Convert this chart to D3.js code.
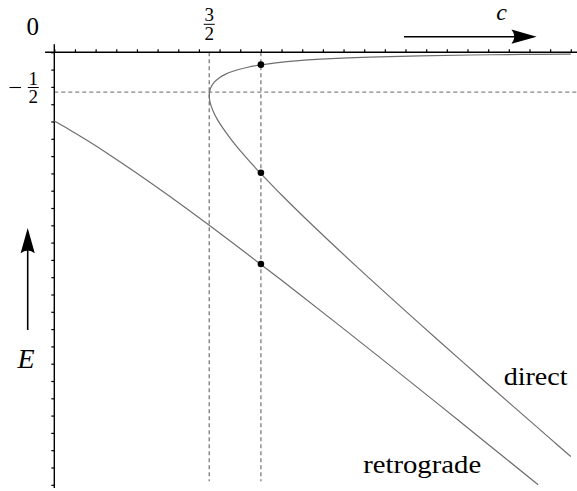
<!DOCTYPE html>
<html>
<head>
<meta charset="utf-8">
<script src="https://cdn.jsdelivr.net/npm/d3@7"></script>
<style>
  html, body { margin: 0; padding: 0; background: #fff; }
</style>
</head>
<body>
<svg id="chart" width="577" height="491"></svg>
<script>
// =====================================================
// Data
// =====================================================
/** direct branch, upper end -> turning point -> lower end */
const directC = [5.000, 4.525, 4.031, 3.541, 3.056, 2.580, 2.336, 2.125, 2.000, 1.873, 1.722, 1.655,
                 1.596, 1.547, 1.513, 1.504, 1.500, 1.504, 1.517, 1.542, 1.581, 1.639, 1.720, 1.833,
                 1.989, 2.000, 2.203, 2.500, 2.919, 3.525, 3.931, 4.432, 4.790, 5.000];
const directE = [-0.020, -0.025, -0.031, -0.041, -0.056, -0.080, -0.100, -0.125, -0.145, -0.173, -0.222, -0.255,
                 -0.296, -0.347, -0.413, -0.454, -0.500, -0.554, -0.617, -0.692, -0.781, -0.889, -1.020, -1.183,
                 -1.389, -1.402, -1.653, -2.000, -2.469, -3.125, -3.556, -4.082, -4.455, -4.673];
/** retrograde branch */
const retroC = [0.000, 0.139, 0.320, 0.533, 0.789, 1.103, 1.500, 2.000, 2.343, 2.725, 3.181, 3.732, 4.120, 4.684];
const retroE = [-0.794, -0.889, -1.020, -1.183, -1.389, -1.653, -2.000, -2.452, -2.768, -3.125, -3.556, -4.082, -4.455, -5.000];

/** marked orbits at c = 2 */
const markC = [2, 2, 2];
const markE = [-0.143, -1.392, -2.447];

/** dashed guides */
const guideC = [1.5, 2];
const guideE = [-0.46];

/** tick labels */
const xFracLabels = [{ value: 1.5, num: "3", den: "2" }];
const yFracLabels = [{ value: -0.4, num: "1", den: "2", sign: true }];
const originLabel = "0";
const branchLabels = [
  { text: "direct",     c: 4.35, E: -3.85, len: 64 },
  { text: "retrograde", c: 2.99, E: -4.86, len: 118 }
];

// =====================================================
// Plot
// =====================================================
const svg = d3.select("#chart");
const serif = "Liberation Serif";

const x = d3.scaleLinear().domain([0, 5]).range([54.3, 570.8]);
const y = d3.scaleLinear().domain([0, -5]).range([52.3, 484.8]);

const curveGray = "#6e6e6e";
const dashGray  = "#858585";

// ----------
// Guides
// =================
svg.append("g")
  .selectAll("line")
  .data(guideC)
  .join("line")
  .attr("x1", d => x(d)).attr("x2", d => x(d))
  .attr("y1", y(0)).attr("y2", y(-4.96))
  .attr("stroke", dashGray).attr("stroke-width", 1.4)
  .attr("stroke-dasharray", "4,3");

svg.append("g")
  .selectAll("line")
  .data(guideE)
  .join("line")
  .attr("x1", x(0)).attr("x2", 577)
  .attr("y1", d => y(d)).attr("y2", d => y(d))
  .attr("stroke", dashGray).attr("stroke-width", 1.4)
  .attr("stroke-dasharray", "4,3");

// ----------
// Axes
// =================
const xAxis = svg.append("g")
  .attr("transform", `translate(0, ${y(0)})`)
  .call(d3.axisTop(x).ticks(25).tickSize(3).tickFormat(""));
xAxis.select(".domain").remove();
xAxis.selectAll("line").attr("stroke-width", 1.2);

const yAxis = svg.append("g")
  .attr("transform", `translate(${x(0)}, 0)`)
  .call(d3.axisLeft(y).ticks(25).tickSize(3).tickFormat(""));
yAxis.select(".domain").remove();
yAxis.selectAll("line").attr("stroke-width", 1.2);

svg.append("line")
  .attr("x1", 45).attr("x2", 577)
  .attr("y1", y(0)).attr("y2", y(0))
  .attr("stroke", "#000").attr("stroke-width", 1.4);
svg.append("line")
  .attr("x1", x(0)).attr("x2", x(0))
  .attr("y1", 44.3).attr("y2", 488)
  .attr("stroke", "#000").attr("stroke-width", 1.4);

// ----------
// Curves
// =================
const line = d3.line()
  .x(d => x(d[0]))
  .y(d => y(d[1]))
  .curve(d3.curveCatmullRom.alpha(0.5));

svg.append("path")
  .datum(d3.zip(directC, directE))
  .attr("fill", "none")
  .attr("stroke", curveGray)
  .attr("stroke-width", 1.2)
  .attr("d", line);

svg.append("path")
  .datum(d3.zip(retroC, retroE))
  .attr("fill", "none")
  .attr("stroke", curveGray)
  .attr("stroke-width", 1.2)
  .attr("d", line);

svg.append("g")
  .selectAll("circle")
  .data(d3.zip(markC, markE))
  .join("circle")
  .attr("cx", d => x(d[0]))
  .attr("cy", d => y(d[1]))
  .attr("r", 3.3)
  .attr("fill", "#000");

// ----------
// Labels
// =================
svg.append("text")
  .attr("x", 32.7).attr("y", 34.5)
  .attr("text-anchor", "middle")
  .attr("font-family", serif)
  .attr("font-size", 25)
  .text(originLabel);

const fracSize = 19;
xFracLabels.forEach(f => {
  const cx = x(f.value);
  svg.append("text").attr("x", cx).attr("y", 21).attr("font-family", serif)
    .attr("text-anchor", "middle").attr("font-size", fracSize).text(f.num);
  svg.append("line").attr("x1", cx - 5.5).attr("x2", cx + 5.5)
    .attr("y1", 24.3).attr("y2", 24.3).attr("stroke", "#000").attr("stroke-width", 1);
  svg.append("text").attr("x", cx).attr("y", 40).attr("font-family", serif)
    .attr("text-anchor", "middle").attr("font-size", fracSize).text(f.den);
});

yFracLabels.forEach(f => {
  const cy = y(f.value) + 0.6;
  const cx = 33.3;
  svg.append("line").attr("x1", 9.5).attr("x2", 21)
    .attr("y1", cy).attr("y2", cy).attr("stroke", "#000").attr("stroke-width", 1.1);
  svg.append("text").attr("x", cx).attr("y", cy - 2.5).attr("font-family", serif)
    .attr("text-anchor", "middle").attr("font-size", fracSize).text(f.num);
  svg.append("line").attr("x1", cx - 5.5).attr("x2", cx + 5.5)
    .attr("y1", cy).attr("y2", cy).attr("stroke", "#000").attr("stroke-width", 1);
  svg.append("text").attr("x", cx).attr("y", cy + 15.5).attr("font-family", serif)
    .attr("text-anchor", "middle").attr("font-size", fracSize).text(f.den);
});

branchLabels.forEach(b => {
  svg.append("text")
    .attr("x", x(b.c)).attr("y", y(b.E))
    .attr("font-family", serif)
    .attr("font-size", 26)
    .attr("textLength", b.len)
    .attr("lengthAdjust", "spacingAndGlyphs")
    .text(b.text);
});

// ----------
// Axis arrows
// =================
svg.append("line")
  .attr("x1", 404).attr("x2", 520).attr("y1", 36.7).attr("y2", 36.7)
  .attr("stroke", "#000").attr("stroke-width", 1.6);
svg.append("path")
  .attr("d", "M536.7,36.7 L511.5,29.6 Q517,36.7 511.5,43.8 Z")
  .attr("fill", "#000");
svg.append("text")
  .attr("x", 501.7).attr("y", 20)
  .attr("text-anchor", "middle")
  .attr("font-family", serif)
  .attr("font-size", 24).attr("font-style", "italic")
  .text("c");

svg.append("line")
  .attr("x1", 27.7).attr("x2", 27.7).attr("y1", 330).attr("y2", 244)
  .attr("stroke", "#000").attr("stroke-width", 1.6);
svg.append("path")
  .attr("d", "M27.7,228 L20.6,253.2 Q27.7,247.7 34.8,253.2 Z")
  .attr("fill", "#000");
svg.append("text")
  .attr("x", 26).attr("y", 368.3)
  .attr("text-anchor", "middle")
  .attr("font-family", serif)
  .attr("font-size", 28).attr("font-style", "italic")
  .text("E");
</script>
</body>
</html>
